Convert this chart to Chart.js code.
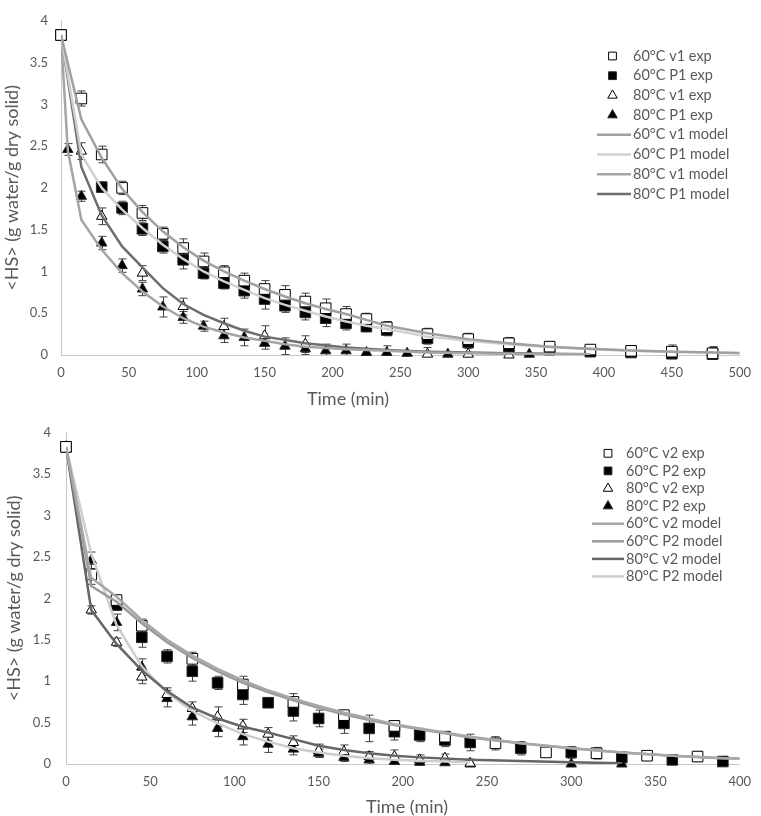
<!DOCTYPE html>
<html><head><meta charset="utf-8">
<script src="https://cdn.jsdelivr.net/npm/chart.js@4.4.0/dist/chart.umd.min.js"></script>
<style>
html,body{margin:0;padding:0;background:#fff;}
#wrap{position:relative;width:761px;height:816px;overflow:hidden;}
canvas{position:absolute;left:0;}
</style></head><body>
<div id="wrap">
<canvas id="c1" width="761" height="410" style="top:0"></canvas>
<canvas id="c2" width="761" height="406" style="top:410px"></canvas>
</div>
<script>
// ===== Top chart data =====
const topXTicks = {min: 0, max: 500, step: 50};
const yTicks = {min: 0, max: 4, step: 0.5};

const t60v1 = [0,15,30,45,60,75,90,105,120,135,150,165,180,195,210,225,240,270,300,330,360,390,420,450,480];
const exp60v1 = [3.83,3.07,2.40,2.00,1.70,1.45,1.28,1.12,0.99,0.89,0.79,0.72,0.64,0.56,0.49,0.43,0.33,0.25,0.19,0.14,0.10,0.065,0.05,0.04,0.02];
const err60v1 = [0.05,0.09,0.1,0.08,0.09,0.08,0.11,0.1,0.08,0.09,0.1,0.11,0.1,0.11,0.09,0.07,0.07,0.07,0.07,0.07,0.06,0.05,0.06,0.08,0.08];

const t60P1 = [0,30,45,60,75,90,105,120,135,150,165,180,195,210,225,240,270,300,330,360,390,420,450,480];
const exp60P1 = [3.83,2.01,1.76,1.51,1.30,1.14,0.98,0.86,0.77,0.67,0.59,0.51,0.44,0.38,0.34,0.30,0.20,0.15,0.10,0.065,0.04,0.03,0.015,0.01];
const err60P1 = [0.05,0.05,0.08,0.08,0.08,0.11,0.07,0.07,0.09,0.12,0.08,0.09,0.1,0.08,0.06,0.07,0.07,0.07,0.07,0.07,0.06,0.06,0.08,0.08];

const t80v1 = [0,15,30,60,90,120,150,180,270,300,330];
const exp80v1 = [3.83,2.44,1.66,0.98,0.58,0.34,0.23,0.13,0.01,0.01,0.0];
const err80v1 = [0.05,0.1,0.1,0.09,0.1,0.1,0.12,0.1,0.08,0,0];

const t80P1 = [0,5,15,30,45,60,75,90,105,120,135,150,165,180,195,210,225,240,255,285,345];
const exp80P1 = [3.83,2.46,1.90,1.34,1.07,0.79,0.575,0.45,0.345,0.23,0.21,0.14,0.105,0.075,0.05,0.05,0.03,0.03,0.02,0.01,0.01];
const err80P1 = [0.05,0.07,0.06,0.08,0.08,0.08,0.12,0.07,0.06,0.08,0.1,0.07,0.1,0.07,0.08,0.08,0.03,0.08,0,0,0];

const tModel60 = [0,15,30,45,60,75,90,105,120,135,150,165,180,195,210,225,240,270,300,330,360,390,420,450,480,500];
const model60v1 = [3.83,2.82,2.36,1.99,1.71,1.48,1.29,1.13,1.00,0.89,0.79,0.70,0.62,0.55,0.49,0.42,0.35,0.26,0.19,0.14,0.10,0.075,0.055,0.04,0.03,0.025];
const model60P1 = [3.83,2.40,2.00,1.74,1.52,1.32,1.15,1.00,0.88,0.78,0.68,0.60,0.53,0.46,0.40,0.35,0.31,0.22,0.17,0.13,0.095,0.07,0.05,0.04,0.03,0.02];
const tModel80v1 = [0,5,15,30,45,60,75,90,105,120,135,150,165,180,210,240,270,300,330,360,390];
const model80v1 = [3.83,2.45,1.62,1.26,0.98,0.76,0.58,0.44,0.34,0.27,0.21,0.17,0.13,0.10,0.07,0.05,0.03,0.02,0.015,0.01,0.01];
const tModel80P1 = [0,15,30,45,60,75,90,105,120,135,150,180,210,240,270,300,330,360,390];
const model80P1 = [3.83,2.25,1.67,1.30,1.05,0.80,0.61,0.48,0.38,0.29,0.22,0.14,0.09,0.06,0.04,0.03,0.02,0.015,0.01];

// ===== Bottom chart data =====
const botXTicks = {min: 0, max: 400, step: 50};

const t60v2 = [0,15,30,45,75,105,135,165,195,225,255,285,315,345,375];
const exp60v2 = [3.83,2.29,1.98,1.67,1.27,0.96,0.75,0.59,0.46,0.33,0.25,0.14,0.13,0.10,0.09];
const err60v2 = [0.05,0.12,0.05,0.08,0.08,0.1,0.1,0.05,0.06,0.06,0.08,0,0.07,0,0.06];

const t60P2 = [0,30,45,60,75,90,105,120,135,150,165,180,195,210,225,240,270,300,330,360,390];
const exp60P2 = [3.83,1.92,1.53,1.30,1.12,0.98,0.84,0.74,0.64,0.55,0.49,0.43,0.39,0.35,0.29,0.26,0.19,0.14,0.08,0.05,0.03];
const err60P2 = [0.05,0.06,0.12,0.08,0.12,0.08,0.12,0.05,0.12,0.1,0.12,0.16,0.1,0.08,0.08,0.1,0.08,0.07,0.07,0.05,0.05];

const t80v2 = [0,15,30,45,60,75,90,105,120,135,150,165,180,195,210,225,240];
const exp80v2 = [3.83,1.86,1.47,1.05,0.84,0.67,0.57,0.46,0.36,0.26,0.16,0.15,0.09,0.09,0.05,0.07,0.01];
const err80v2 = [0.05,0.05,0.05,0.08,0.08,0.08,0.12,0.08,0.08,0.08,0.08,0.08,0.06,0.08,0.06,0.05,0.05];

const t80P2 = [0,15,30,45,60,75,90,105,120,135,150,165,180,195,210,225,240,300,330];
const exp80P2 = [3.83,2.46,1.71,1.17,0.79,0.57,0.43,0.33,0.24,0.18,0.13,0.08,0.05,0.03,0.02,0.015,0.0,0.0,0.0];
const err80P2 = [0.05,0.1,0.1,0.1,0.1,0.1,0.1,0.1,0.1,0.07,0.05,0.05,0.05,0.05,0.05,0.04,0.05,0,0];

const tModelB60 = [0,15,30,45,60,75,90,105,120,135,150,165,180,195,210,225,240,270,300,330,360,390,400];
const model60v2 = [3.83,2.25,2.02,1.74,1.50,1.31,1.15,1.01,0.89,0.79,0.70,0.62,0.55,0.48,0.43,0.38,0.33,0.25,0.19,0.14,0.10,0.07,0.065];
const model60P2 = [3.83,2.15,1.96,1.70,1.47,1.28,1.12,0.98,0.87,0.77,0.68,0.60,0.53,0.47,0.42,0.37,0.32,0.25,0.19,0.14,0.10,0.07,0.065];
const tModelB80v2 = [0,15,30,45,60,75,90,105,120,135,150,165,180,195,210,240,270,300,330];
const model80v2 = [3.83,1.86,1.45,1.13,0.88,0.68,0.55,0.45,0.38,0.30,0.22,0.17,0.13,0.10,0.08,0.05,0.035,0.02,0.01];
const tModelB80P2 = [0,15,30,45,60,75,90,105,120,135,150,165,180,195,210,240];
const model80P2 = [3.83,2.54,1.68,1.18,0.86,0.64,0.49,0.36,0.27,0.19,0.14,0.10,0.07,0.05,0.04,0.02];

const yTitle = '<HS> (g water/g dry solid)';
const xTitle = 'Time (min)';

// ===== helpers =====
const pts = (t, v) => t.map((x, i) => ({x: x, y: v[i]}));
const FONT = 'Lato, "Open Sans", sans-serif';
const TXT = '#595959';

function expSet(label, t, v, e, style, filled) {
  return {label, data: pts(t, v), errors: e, showLine: false, clip: false, order: 1,
    pointStyle: style, pointRadius: style === 'rect' ? 7.5 : 6, pointHoverRadius: style === 'rect' ? 7.5 : 6,
    pointBackgroundColor: filled ? '#000000' : '#ffffff',
    pointBorderColor: filled ? '#262626' : '#000000', pointBorderWidth: 1,
    backgroundColor: filled ? '#000000' : '#ffffff', borderColor: '#000000'};
}
function modelSet(label, t, v, color) {
  return {label, data: pts(t, v), showLine: true, pointRadius: 0, pointHoverRadius: 0, order: 0,
    borderColor: color, backgroundColor: color, borderWidth: 2.5, tension: 0, fill: false};
}

const errorBarPlugin = {
  id: 'errorBars',
  beforeDatasetsDraw(chart) {
    const {ctx, chartArea: a, scales: {x, y}} = chart;
    ctx.save();
    ctx.beginPath(); ctx.rect(a.left, a.top - 10, a.right - a.left, a.bottom - a.top + 10); ctx.clip();
    ctx.strokeStyle = '#404040'; ctx.lineWidth = 1;
    chart.data.datasets.forEach(ds => {
      if (!ds.errors) return;
      ds.data.forEach((p, j) => {
        const e = ds.errors[j]; if (!e) return;
        const px = Math.round(x.getPixelForValue(p.x)) + 0.5;
        const yt = y.getPixelForValue(p.y + e), yb = y.getPixelForValue(p.y - e);
        ctx.beginPath();
        ctx.moveTo(px, yt); ctx.lineTo(px, yb);
        ctx.moveTo(px - 4, yt); ctx.lineTo(px + 4, yt);
        ctx.moveTo(px - 4, yb); ctx.lineTo(px + 4, yb);
        ctx.stroke();
      });
    });
    ctx.restore();
  }
};

const boxLegendPlugin = {
  id: 'boxLegend',
  afterDraw(chart, args, o) {
    const ctx = chart.ctx;
    ctx.save();
    ctx.font = o.fontSize + 'px ' + FONT;
    ctx.textBaseline = 'middle'; ctx.textAlign = 'left';
    chart.data.datasets.forEach((ds, k) => {
      const yy = o.y0 + k * o.dy;
      if (ds.showLine) {
        ctx.strokeStyle = ds.borderColor; ctx.lineWidth = ds.borderWidth;
        ctx.beginPath(); ctx.moveTo(o.lineX1, yy); ctx.lineTo(o.lineX2, yy); ctx.stroke();
      } else {
        ctx.fillStyle = ds.pointBackgroundColor; ctx.strokeStyle = ds.pointBorderColor; ctx.lineWidth = 1;
        Chart.helpers.drawPoint(ctx, {pointStyle: ds.pointStyle, radius: 5.5, borderWidth: 1, rotation: 0}, o.markerX, yy);
      }
      ctx.fillStyle = TXT;
      ctx.fillText(ds.label, o.textX, yy);
    });
    ctx.restore();
  }
};

const xTitlePlugin = {
  id: 'xTitleText',
  afterDraw(chart, args, o) {
    const ctx = chart.ctx;
    ctx.save();
    ctx.font = '18px ' + FONT; ctx.fillStyle = TXT;
    ctx.textAlign = 'center'; ctx.textBaseline = 'middle';
    ctx.fillText(o.text, o.x, o.y);
    ctx.restore();
  }
};

function makeChart(id, datasets, xr, cfg) {
  return new Chart(document.getElementById(id), {
    type: 'scatter',
    data: {datasets},
    plugins: [errorBarPlugin, boxLegendPlugin, xTitlePlugin],
    options: {
      responsive: false, animation: false, devicePixelRatio: 1,
      layout: {padding: {top: cfg.padTop, right: cfg.padRight, left: 0, bottom: 0}},
      plugins: {
        legend: {display: false}, tooltip: {enabled: false},
        boxLegend: cfg.legend,
        xTitleText: {text: xTitle, x: cfg.titleX, y: cfg.titleY}
      },
      scales: {
        x: {type: 'linear', min: xr.min, max: xr.max,
          ticks: {stepSize: xr.step, color: TXT, font: {family: FONT, size: 13}, padding: 10, maxRotation: 0,
            callback: v => String(v)},
          grid: {display: false, drawTicks: false},
          border: {display: true, color: '#c8c8c8', width: 1},
          afterFit(s) { s.height = cfg.xAxisH; }},
        y: {type: 'linear', min: yTicks.min, max: yTicks.max,
          ticks: {stepSize: yTicks.step, color: TXT, font: {family: FONT, size: 13}, padding: cfg.yPad,
            callback: v => String(v)},
          grid: {display: false, drawTicks: false},
          border: {display: true, color: '#c8c8c8', width: 1},
          title: {display: true, text: yTitle, color: TXT, font: {family: FONT, size: 18}, padding: {top: cfg.yTitlePad, bottom: 0}},
          afterFit(s) { s.width = cfg.yAxisW; }}
      }
    }
  });
}

makeChart('c1', [
  expSet('60°C v1 exp', t60v1, exp60v1, err60v1, 'rect', false),
  expSet('60°C P1 exp', t60P1, exp60P1, err60P1, 'rect', true),
  expSet('80°C v1 exp', t80v1, exp80v1, err80v1, 'triangle', false),
  expSet('80°C P1 exp', t80P1, exp80P1, err80P1, 'triangle', true),
  modelSet('60°C v1 model', tModel60, model60v1, '#a0a0a0'),
  modelSet('60°C P1 model', tModel60, model60P1, '#d0d0d0'),
  modelSet('80°C v1 model', tModel80v1, model80v1, '#a5a5a5'),
  modelSet('80°C P1 model', tModel80P1, model80P1, '#6e6e6e')
], topXTicks, {padTop: 7, padRight: 13, xAxisH: 55, yAxisW: 61, yPad: 13, yTitlePad: 1,
  titleX: 348, titleY: 399,
  legend: {fontSize: 14.5, y0: 56, dy: 19.7, markerX: 612.5, lineX1: 597, lineX2: 631, textX: 633}});

makeChart('c2', [
  expSet('60°C v2 exp', t60v2, exp60v2, err60v2, 'rect', false),
  expSet('60°C P2 exp', t60P2, exp60P2, err60P2, 'rect', true),
  expSet('80°C v2 exp', t80v2, exp80v2, err80v2, 'triangle', false),
  expSet('80°C P2 exp', t80P2, exp80P2, err80P2, 'triangle', true),
  modelSet('60°C v2 model', tModelB60, model60v2, '#a8a8a8'),
  modelSet('60°C P2 model', tModelB60, model60P2, '#9a9a9a'),
  modelSet('80°C v2 model', tModelB80v2, model80v2, '#666666'),
  modelSet('80°C P2 model', tModelB80P2, model80P2, '#cdcdcd')
], botXTicks, {padTop: 22, padRight: 11, xAxisH: 52, yAxisW: 66, yPad: 15, yTitlePad: 3,
  titleX: 407, titleY: 397,
  legend: {fontSize: 14.5, y0: 43.3, dy: 17.6, markerX: 608, lineX1: 592, lineX2: 624, textX: 626}});
</script>
</body></html>
